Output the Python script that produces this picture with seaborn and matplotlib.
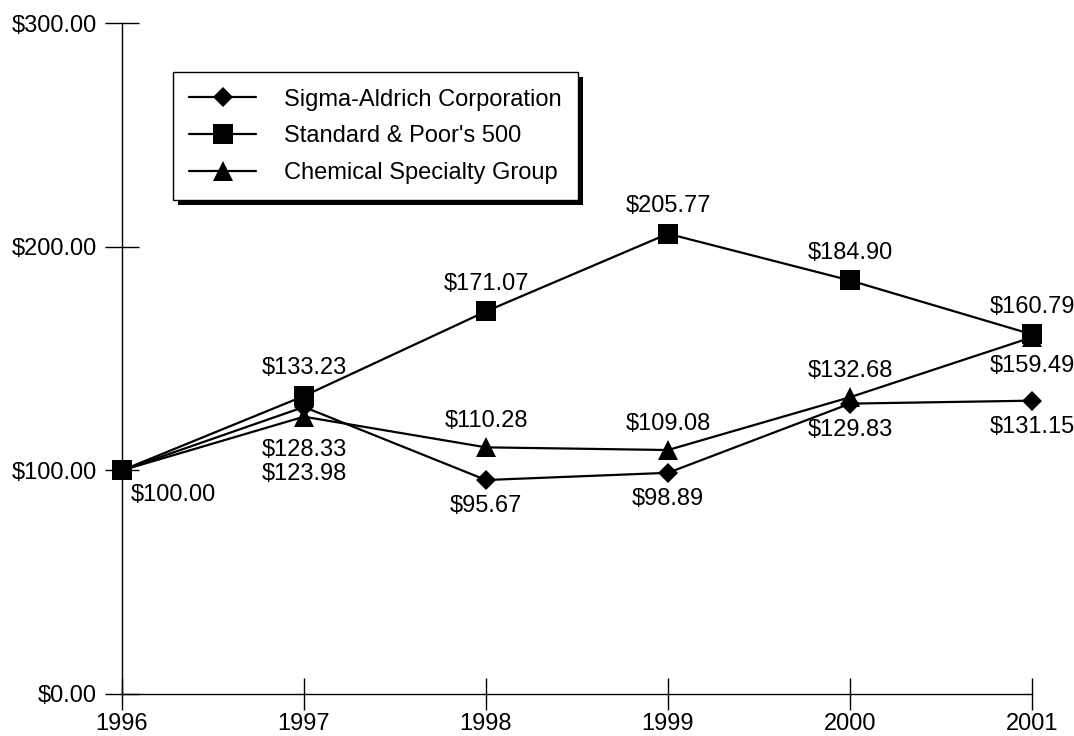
import matplotlib
matplotlib.use("Agg")
import matplotlib.pyplot as plt
import matplotlib.transforms as mtransforms
from matplotlib.patches import Rectangle
import seaborn as sns
import pandas as pd

years = [1996, 1997, 1998, 1999, 2000, 2001]
sigma = [100.00, 128.33, 95.67, 98.89, 129.83, 131.15]
sp500 = [100.00, 133.23, 171.07, 205.77, 184.90, 160.79]
chem = [100.00, 123.98, 110.28, 109.08, 132.68, 159.49]
names = ["Sigma-Aldrich Corporation", "Standard & Poor's 500", "Chemical Specialty Group"]

sns.set_style("ticks")
plt.rcParams['font.family'] = ['Liberation Sans', 'DejaVu Sans']
plt.rcParams['text.color'] = 'black'

FS = 17

fig = plt.figure(figsize=(10.74, 7.36), dpi=100)
ax = fig.add_axes([122 / 1074, 42 / 736, 910 / 1074, 671 / 736])

df = pd.DataFrame({'year': years, 'sigma': sigma, 'sp': sp500, 'chem': chem})

sns.lineplot(data=df, x='year', y='sigma', ax=ax, color='black', lw=1.6,
             marker='D', markersize=10, markeredgewidth=0, label=names[0], clip_on=False)
sns.lineplot(data=df, x='year', y='sp', ax=ax, color='black', lw=1.6,
             marker='s', markersize=15, markeredgewidth=0, label=names[1], clip_on=False)
sns.lineplot(data=df, x='year', y='chem', ax=ax, color='black', lw=1.6,
             marker='^', markersize=14, markeredgewidth=0, label=names[2], clip_on=False)

ax.set_xlim(1996, 2001)
ax.set_ylim(0, 300)
ax.set_xlabel('')
ax.set_ylabel('')
ax.set_xticks(years)
ax.set_xticklabels([str(y) for y in years])
ax.set_yticks([0, 100, 200, 300])
ax.set_yticklabels(['$0.00', '$100.00', '$200.00', '$300.00'])
sns.despine(ax=ax)
for s in ['left', 'bottom']:
    ax.spines[s].set_linewidth(1.0)
    ax.spines[s].set_color('black')
ax.tick_params(axis='y', direction='inout', length=24, width=1.0, pad=6,
               labelsize=FS, colors='black')
ax.tick_params(axis='x', direction='inout', length=23, width=1.0, pad=2,
               labelsize=FS, colors='black')

def lab(x, v, dx, dy):
    ax.annotate('$%.2f' % v, (x, v), xytext=(dx, dy), textcoords='offset points',
                ha='center', va='center', fontsize=FS, color='black')

lab(1996, sp500[0], 37, -18)
for i in range(1, 6):
    lab(years[i], sp500[i], 0, 20)
lab(1997, sigma[1], 0, -31)
for i in range(2, 6):
    lab(years[i], sigma[i], 0, -19)
lab(1997, chem[1], 0, -41)
for i in range(2, 5):
    lab(years[i], chem[i], 0, 19)
lab(2001, chem[5], 0, -21)

leg = ax.legend(loc='upper left', bbox_to_anchor=(0.056, 0.927), borderaxespad=0,
                fontsize=FS, frameon=True, fancybox=False, handlelength=2.8,
                handletextpad=1.2, labelspacing=0.62, borderpad=0.7)
leg.get_frame().set_edgecolor('black')
leg.get_frame().set_linewidth(1.0)
leg.get_frame().set_alpha(1)
for t in leg.get_texts():
    t.set_color('black')

fig.canvas.draw()
bb = leg.get_window_extent()
shadow = Rectangle((bb.x0 + 5, bb.y0 - 5), bb.width, bb.height, facecolor='black',
                   edgecolor='none', transform=mtransforms.IdentityTransform(), zorder=4)
ax.add_patch(shadow)

fig.savefig('out.png', dpi=100)
